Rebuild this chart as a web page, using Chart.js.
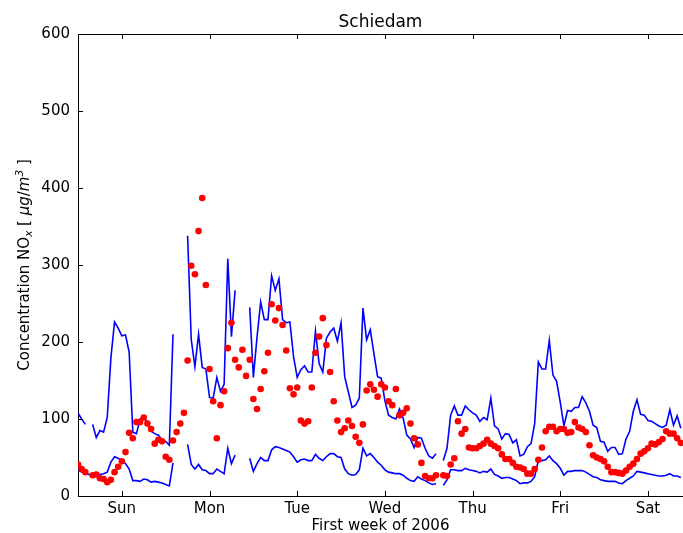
<!DOCTYPE html>
<html>
<head>
<meta charset="utf-8">
<title>Schiedam</title>
<script src="https://cdn.jsdelivr.net/npm/chart.js@4/dist/chart.umd.min.js"></script>
<style>
  html, body { margin: 0; padding: 0; background: #fff; }
</style>
</head>
<body>
<canvas id="line-chart" width="683" height="533"></canvas>
<script>
// hourly values, first week of 2006 (index = hours since Sunday 00:00)
var dayLabels = ['Sun', 'Mon', 'Tue', 'Wed', 'Thu', 'Fri', 'Sat'];
var dayTicks = [12, 36, 60, 84, 108, 132, 156];

var upperBound = [
  108, 100, 93, null, 93, 76, 85, 83, 102, 179, 226, 218, 208, 209, 187, 83, 81, 100, 101, 96, 84, 81, 79, 73,
  71, 66, 210, null, null, null, 338, 203, 168, 210, 167, 165, 128, 127, 154, 136, 145, 308, 207, 267, null, null, null, 245,
  154, 206, 252, 229, 229, 286, 267, 282, 229, 225, 226, 181, 154, 164, 169, 161, 161, 214, 172, 161, 205, 213, 218, 201,
  225, 155, 135, 115, 118, 127, 244, 203, 216, 185, 155, 153, 124, 105, 102, 100, 113, 101, 79, 74, 63, 76, 75, 62,
  52, 49, 55, null, 46, 62, 105, 117, 105, 105, 117, 112, 108, 105, 97, 102, 99, 127, 91, 87, 74, 81, 80, 69,
  73, 52, 54, 64, 68, 94, 174, 165, 165, 202, 157, 149, 122, 91, 111, 110, 115, 115, 129, 121, 110, 92, 89, 71,
  70, 58, 63, 63, 54, 55, 74, 84, 110, 125, 106, 105, 98, 97, 94, 91, 89, 92, 112, 92, 104, 88
];

var lowerBound = [
  34, 31, 29, 28, 28, 28, 28, 29, 31, 44, 51, 49, 46, 42, 35, 20, 20, 19, 22, 21, 18, 19, 18, 17,
  15, 13, 43, null, null, null, 67, 41, 35, 41, 34, 33, 29, 29, 35, 32, 29, 62, 42, 53, null, null, null, 49,
  32, 42, 50, 46, 46, 60, 64, 63, 61, 59, 57, 51, 44, 47, 48, 46, 46, 54, 49, 46, 51, 55, 55, 51,
  50, 35, 29, 27, 28, 34, 62, 52, 55, 50, 44, 40, 34, 31, 30, 29, 29, 27, 23, 20, 19, 25, 22, 20,
  17, 15, 16, null, 14, 21, 34, 34, 33, 33, 36, 34, 33, 32, 30, 32, 31, 35, 28, 26, 23, 24, 24, 22,
  20, 16, 17, 17, 19, 25, 46, 46, 47, 52, 46, 42, 36, 27, 32, 32, 33, 33, 33, 31, 28, 25, 24, 21,
  20, 19, 19, 19, 17, 16, 20, 23, 26, 32, 31, 30, 29, 28, 27, 26, 26, 27, 29, 26, 26, 24
];

var measured = [
  41, 35, 31, null, 27, 28, 23, 22, 18, 21, 31, 38, 45, 57, 82, 75, 96, 96, 102, 94, 87, 68, 73, 71,
  51, 47, 72, 83, 94, 108, 176, 299, 288, 344, 387, 274, 165, 123, 75, 118, 136, 192, 225, 177, 167, 190, 156, 177,
  126, 113, 139, 162, 186, 249, 228, 244, 222, 189, 140, 132, 141, 98, 94, 97, 141, 186, 207, 231, 196, 161, 123, 98,
  83, 88, 98, 91, 77, 69, 93, 137, 145, 138, 129, 145, 141, 123, 118, 139, 105, 108, 114, 94, 75, 67, 43, 26,
  23, 23, 27, null, 27, 26, 41, 49, 97, 81, 87, 63, 62, 62, 65, 68, 73, 68, 65, 62, 54, 48, 48, 43,
  38, 37, 35, 29, 29, 35, 47, 63, 84, 90, 90, 84, 87, 87, 82, 83, 96, 89, 87, 83, 66, 53, 50, 48,
  45, 38, 31, 31, 30, 29, 33, 38, 42, 48, 55, 58, 62, 68, 67, 70, 74, 84, 81, 81, 75, 69
];

function toPoints(arr) {
  return arr.map(function (v, i) { return { x: i, y: v }; });
}

var FONT = '"DejaVu Sans", sans-serif';

// title, top spine, inward tick marks, x label and the y label with sub/superscript
var frame = {
  id: 'frame',
  afterDraw: function (chart) {
    var ctx = chart.ctx;
    var a = chart.chartArea;
    var xs = chart.scales.x, ys = chart.scales.y;
    ctx.save();
    ctx.strokeStyle = '#000';
    ctx.lineWidth = 1;
    ctx.beginPath();
    ctx.moveTo(a.left, a.top + 0.5);
    ctx.lineTo(a.right, a.top + 0.5);
    dayTicks.forEach(function (t) {
      var px = Math.round(xs.getPixelForValue(t)) + 0.5;
      ctx.moveTo(px, a.bottom);
      ctx.lineTo(px, a.bottom - 5);
      ctx.moveTo(px, a.top);
      ctx.lineTo(px, a.top + 5);
    });
    for (var v = 0; v <= 600; v += 100) {
      var py = Math.round(ys.getPixelForValue(v)) + 0.5;
      ctx.moveTo(a.left, py);
      ctx.lineTo(a.left + 5, py);
    }
    ctx.stroke();

    ctx.fillStyle = '#000';
    ctx.textAlign = 'center';
    ctx.textBaseline = 'alphabetic';
    ctx.font = '17px ' + FONT;
    ctx.fillText('Schiedam', (a.left + a.right) / 2, 27);
    ctx.font = '15px ' + FONT;
    ctx.fillText('First week of 2006', (a.left + a.right) / 2, 530);

    var parts = [
      { t: 'Concentration NO', f: '15px ' + FONT, dy: 0 },
      { t: 'x', f: 'italic 10.5px ' + FONT, dy: 3 },
      { t: ' [ ', f: '15px ' + FONT, dy: 0 },
      { t: 'μg', f: 'italic 15px ' + FONT, dy: 0 },
      { t: '/', f: '15px ' + FONT, dy: 0 },
      { t: 'm', f: 'italic 15px ' + FONT, dy: 0 },
      { t: '3', f: 'italic 10.5px ' + FONT, dy: -6 },
      { t: ' ]', f: '15px ' + FONT, dy: 0 }
    ];
    var total = 0;
    parts.forEach(function (p) { ctx.font = p.f; p.w = ctx.measureText(p.t).width; total += p.w; });
    ctx.translate(29, (a.top + a.bottom) / 2);
    ctx.rotate(-Math.PI / 2);
    ctx.textAlign = 'left';
    var x = -total / 2;
    parts.forEach(function (p) {
      ctx.font = p.f;
      ctx.fillText(p.t, x, p.dy);
      x += p.w;
    });
    ctx.restore();
  }
};

new Chart(document.getElementById('line-chart'), {
  type: 'scatter',
  data: {
    datasets: [
      {
        label: 'measured',
        data: toPoints(measured),
        showLine: false,
        pointRadius: 3.3,
        pointBackgroundColor: '#ff0000',
        pointBorderWidth: 0,
        order: 1
      },
      {
        label: 'upper',
        data: toPoints(upperBound),
        showLine: true,
        spanGaps: false,
        borderColor: '#0000ff',
        borderWidth: 1.6,
        pointRadius: 0,
        order: 2
      },
      {
        label: 'lower',
        data: toPoints(lowerBound),
        showLine: true,
        spanGaps: false,
        borderColor: '#0000ff',
        borderWidth: 1.6,
        pointRadius: 0,
        order: 2
      }
    ]
  },
  options: {
    responsive: false,
    animation: false,
    layout: { autoPadding: false, padding: { top: 34, left: 0, right: 0, bottom: 0 } },
    plugins: {
      legend: { display: false },
      tooltip: { enabled: false },
      title: { display: false }
    },
    scales: {
      x: {
        type: 'linear',
        min: 0,
        max: 165.6,
        grid: { display: false, drawTicks: false },
        border: { display: true, color: '#000', width: 1 },
        afterBuildTicks: function (scale) {
          scale.ticks = dayTicks.map(function (t) { return { value: t }; });
        },
        afterFit: function (scale) {
          scale.height = 37;
          scale.paddingLeft = 0;
          scale.paddingRight = 0;
        },
        ticks: {
          autoSkip: false,
          maxRotation: 0,
          padding: 4,
          color: '#000',
          font: { family: FONT, size: 15 },
          callback: function (v) { return dayLabels[dayTicks.indexOf(v)]; }
        }
      },
      y: {
        min: 0,
        max: 600,
        grid: { display: false, drawTicks: false },
        border: { display: true, color: '#000', width: 1 },
        afterFit: function (scale) { scale.width = 78; },
        ticks: {
          stepSize: 100,
          padding: 8,
          color: '#000',
          font: { family: FONT, size: 15 }
        }
      }
    }
  },
  plugins: [frame]
});
</script>
</body>
</html>
